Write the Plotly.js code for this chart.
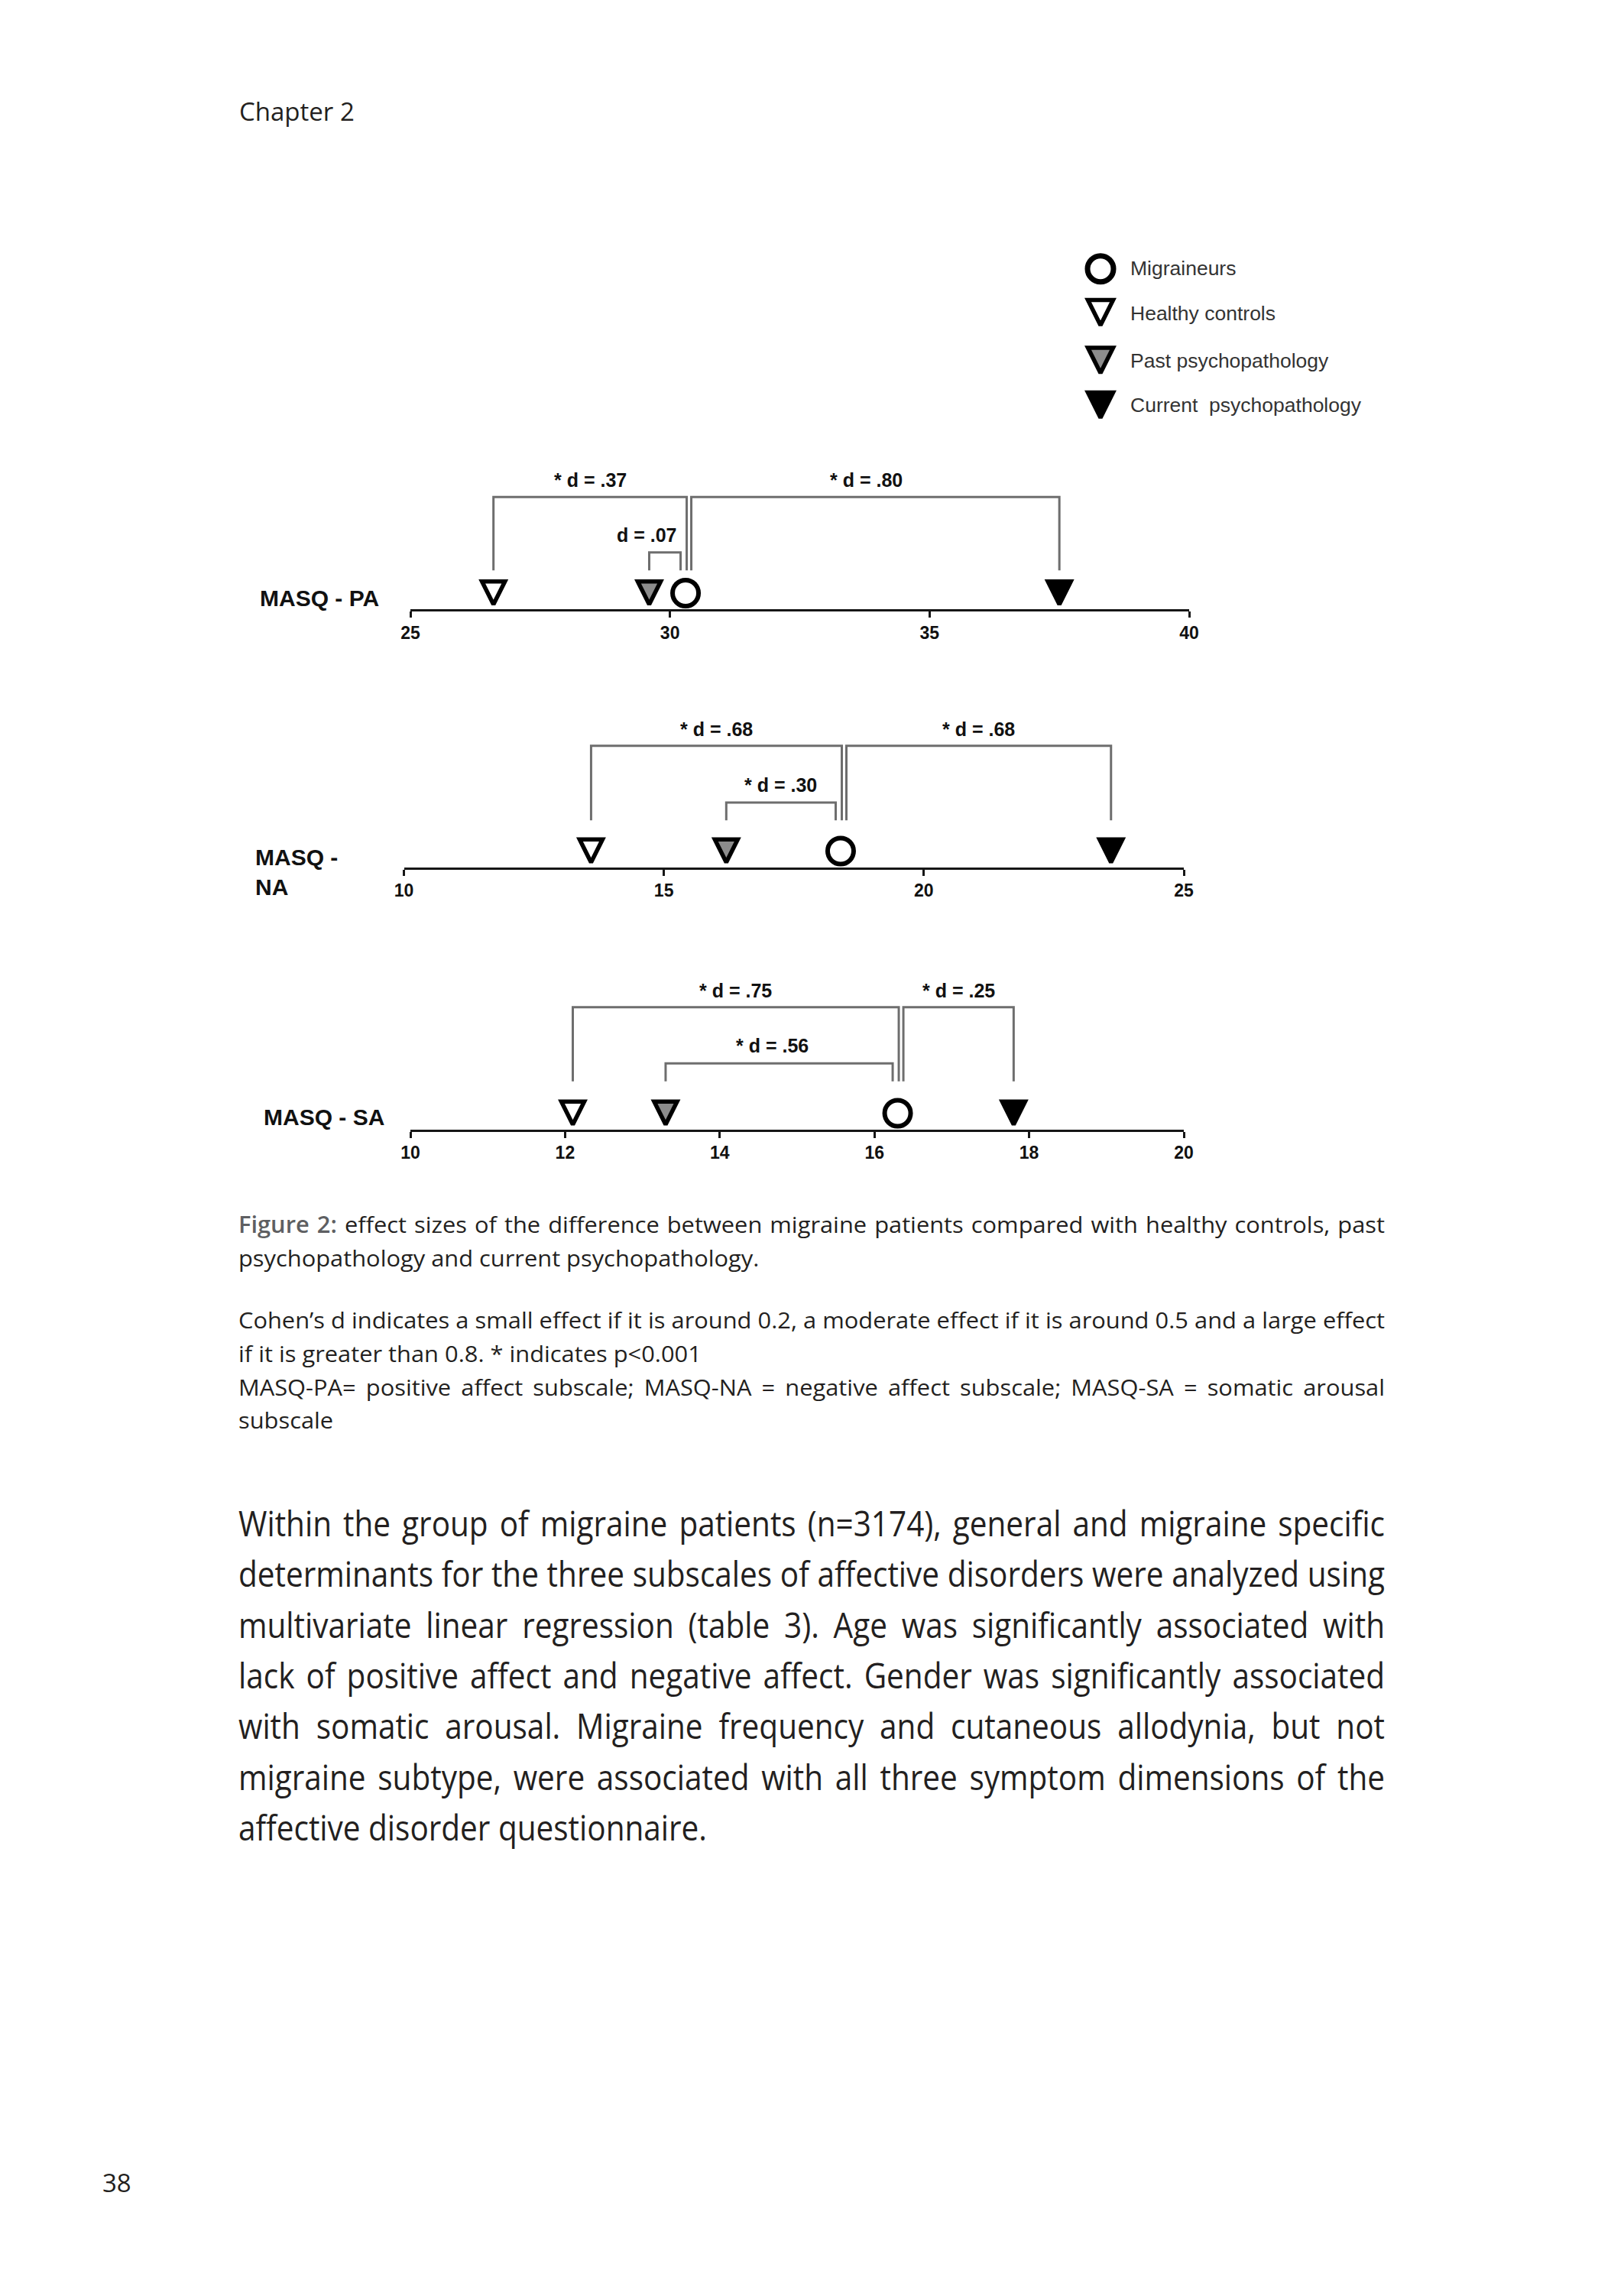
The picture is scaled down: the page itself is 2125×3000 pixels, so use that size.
<!DOCTYPE html>
<html><head><meta charset="utf-8">
<script src="https://cdn.plot.ly/plotly-3.0.1.min.js"></script>
<style>
html,body{margin:0;padding:0;background:#fff;}
#page{position:relative;width:2125px;height:3000px;overflow:hidden;background:#fff;}
#chart{position:absolute;left:0;top:0;width:2125px;height:3000px;}
#text{position:absolute;left:0;top:0;width:2125px;height:3000px;pointer-events:none;}
.txt{position:absolute;white-space:nowrap;color:#231f20;font-family:"Open Sans","Noto Sans",sans-serif;line-height:1.4;}
</style></head><body>
<div id="page"><div id="chart"></div><div id="text"></div></div>
<script>
const W = 2125, H = 3000;

// ---------------- data ----------------
const groupNames = ['Migraineurs', 'Healthy controls', 'Past psychopathology', 'Current\u00a0 psychopathology'];
const scaleNames = ['MASQ - PA', 'MASQ -<br>NA', 'MASQ - SA'];
// mean scores: migraineurs, healthy controls, past psychopathology, current psychopathology
const paMeans = [30.3, 26.6, 29.6, 37.5];
const naMeans = [18.4, 13.6, 16.2, 23.6];
const saMeans = [16.3, 12.1, 13.3, 17.8];
const paTicks = [25, 30, 35, 40];
const naTicks = [10, 15, 20, 25];
const saTicks = [10, 12, 14, 16, 18, 20];
// effect sizes: migraineurs vs healthy controls, vs past, vs current
const paEffects = ['* d = .37', 'd = .07', '* d = .80'];
const naEffects = ['* d = .68', '* d = .30', '* d = .68'];
const saEffects = ['* d = .75', '* d = .56', '* d = .25'];

// ---------------- layout constants ----------------
const ARIAL = 'Arial, "Liberation Sans", sans-serif';
const LW = 3;          // axis line width
const SPAN = 230;      // px height of each panel's y range
const panels = [
  {name: scaleNames[0], means: paMeans, ticks: paTicks, effects: paEffects,
   x0: 537, x1: 1556, axisY: 798.5, labelX: 338, labelY: 782.5,
   top: 148.3, bottom: 52.3, smallTop: 75.7, bigLab: 170.7, smallLab: 99, labShift: [0, -24, -12]},
  {name: scaleNames[1], means: naMeans, ticks: naTicks, effects: naEffects,
   x0: 528.5, x1: 1549, axisY: 1136, labelX: 332, labelY: 1140.5,
   top: 160.3, bottom: 62.7, smallTop: 86, bigLab: 182.3, smallLab: 109, labShift: [0, 0, 0]},
  {name: scaleNames[2], means: saMeans, ticks: saTicks, effects: saEffects,
   x0: 537, x1: 1549, axisY: 1479, labelX: 343, labelY: 1461.5,
   top: 161.3, bottom: 64.3, smallTop: 87.7, bigLab: 182.7, smallLab: 111, labShift: [0, -9, 0]}
];
const TRI_SIZE = 30, TRI_LINE = 5.5, CIRC_SIZE = 34, CIRC_LINE = 6;
const triColors = ['#ffffff', '#8c8c8c', '#000000'];
const bracketColor = '#6e6e6e';

const traces = [];
const annotations = [];
const layout = {
  width: W, height: H, margin: {l: 0, r: 0, t: 0, b: 0},
  paper_bgcolor: 'rgba(0,0,0,0)', plot_bgcolor: 'rgba(0,0,0,0)',
  showlegend: false, font: {family: ARIAL, color: '#111'},
  hovermode: false
};

panels.forEach((p, i) => {
  const n = i + 1, sfx = n === 1 ? '' : String(n);
  const xr = 'x' + sfx, yr = 'y' + sfx;
  const lo = p.ticks[0], hi = p.ticks[p.ticks.length - 1];
  const ppu = (p.x1 - p.x0) / (hi - lo);
  const base = p.axisY - LW / 2;
  const up = v => v - LW / 2;
  layout['xaxis' + sfx] = {
    domain: [p.x0 / W, p.x1 / W], range: [lo, hi], anchor: yr,
    showline: true, linewidth: LW, linecolor: '#161616',
    ticks: 'outside', ticklen: 8, tickwidth: 3, tickcolor: '#161616',
    tickmode: 'array', tickvals: p.ticks, ticktext: p.ticks.map(t => '<b>' + t + '</b>'),
    tickfont: {family: ARIAL, size: 23, color: '#111'},
    showgrid: false, zeroline: false, fixedrange: true
  };
  layout['yaxis' + sfx] = {
    domain: [1 - base / H, 1 - (base - SPAN) / H], range: [0, SPAN],
    visible: false, anchor: xr, fixedrange: true
  };
  const [mig, hc, past, cur] = p.means;
  const brackets = [
    {a: hc, b: mig + 1.5 / ppu, top: p.top, lab: p.bigLab},
    {a: past, b: mig - 6.5 / ppu, top: p.smallTop, lab: p.smallLab},
    {a: mig + 7.5 / ppu, b: cur, top: p.top, lab: p.bigLab}
  ];
  brackets.forEach((b, j) => {
    traces.push({
      type: 'scatter', mode: 'lines', xaxis: xr, yaxis: yr,
      x: [b.a, b.a, b.b, b.b], y: [up(p.bottom), up(b.top), up(b.top), up(p.bottom)],
      line: {color: bracketColor, width: 3}, cliponaxis: false
    });
    annotations.push({
      xref: xr, yref: yr, x: (b.a + b.b) / 2, y: up(b.lab), xshift: p.labShift[j],
      text: '<b>' + p.effects[j] + '</b>', showarrow: false, xanchor: 'center', yanchor: 'middle',
      font: {family: ARIAL, size: 25, color: '#111'}
    });
  });
  const triY = TRI_LINE * 1.118;
  [hc, past, cur].forEach((v, j) => {
    traces.push({
      type: 'scatter', mode: 'markers', xaxis: xr, yaxis: yr,
      x: [v], y: [triY], cliponaxis: false,
      marker: {symbol: 'arrow-down', size: TRI_SIZE, color: triColors[j], opacity: 1,
               line: {color: '#000000', width: TRI_LINE}}
    });
  });
  traces.push({
    type: 'scatter', mode: 'markers', xaxis: xr, yaxis: yr,
    x: [mig], y: [up(22.5)], cliponaxis: false,
    marker: {symbol: 'circle', size: CIRC_SIZE, color: '#ffffff', opacity: 1,
             line: {color: '#000000', width: CIRC_LINE}}
  });
  annotations.push({
    xref: 'paper', yref: 'paper', x: p.labelX / W, y: 1 - p.labelY / H,
    xanchor: 'left', yanchor: 'middle', align: 'left', showarrow: false,
    text: '<b>' + p.name + '</b>', font: {family: ARIAL, size: 30, color: '#111'}
  });
});

// legend (drawn on a page-pixel helper axis)
layout.xaxis4 = {domain: [0, 1], range: [0, W], visible: false, anchor: 'y4', fixedrange: true};
layout.yaxis4 = {domain: [0, 1], range: [H, 0], visible: false, anchor: 'x4', fixedrange: true};
const legX = 1440, legTextX = 1477;
const legTextY = [350.7, 409.7, 472.3, 530.3];
const legMarkY = [351.7, 431.7 - 6.1, 494 - 6.1, 552.7 - 6.1];
const legSymbols = ['circle', 'arrow-down', 'arrow-down', 'arrow-down'];
const legFill = ['#ffffff'].concat(triColors);
const legSize = [34, 33, 33, 33];
const legLine = [7, 5.5, 5.5, 5.5];
groupNames.forEach((g, i) => {
  traces.push({
    type: 'scatter', mode: 'markers', xaxis: 'x4', yaxis: 'y4', cliponaxis: false,
    x: [legX], y: [legMarkY[i]],
    marker: {symbol: legSymbols[i], size: legSize[i], color: legFill[i], opacity: 1,
             line: {color: '#000000', width: legLine[i]}}
  });
  annotations.push({
    xref: 'paper', yref: 'paper', x: legTextX / W, y: 1 - legTextY[i] / H,
    xanchor: 'left', yanchor: 'middle', showarrow: false, text: g,
    font: {family: ARIAL, size: 26.5, color: '#333'}
  });
});
layout.annotations = annotations;
traces.forEach(t => { t.showlegend = false; t.hoverinfo = 'skip'; });

Plotly.newPlot('chart', traces, layout, {displayModeBar: false, staticPlot: true});

// ---------------- page text ----------------
const captionLines = [
  {html: '<span style="font-weight:600;color:#5e5f62">Figure 2:</span> effect sizes of the difference between migraine patients compared with healthy controls, past', justify: true},
  {html: 'psychopathology and current psychopathology.', justify: false},
  {html: 'Cohen\u2019s d indicates a small effect if it is around 0.2, a moderate effect if it is around 0.5 and a large effect', justify: true},
  {html: 'if it is greater than 0.8. * indicates p&lt;0.001', justify: false},
  {html: 'MASQ-PA= positive affect subscale; MASQ-NA = negative affect subscale; MASQ-SA = somatic arousal', justify: true},
  {html: 'subscale', justify: false}
];
const bodyLines = [
  'Within the group of migraine patients (n=3174), general and migraine specific',
  'determinants for the three subscales of affective disorders were analyzed using',
  'multivariate linear regression (table 3). Age was significantly associated with',
  'lack of positive affect and negative affect. Gender was significantly associated',
  'with somatic arousal. Migraine frequency and cutaneous allodynia, but not',
  'migraine subtype, were associated with all three symptom dimensions of the',
  'affective disorder questionnaire.'
].map((t, i, a) => ({html: t, justify: i < a.length - 1}));

function placeLines(lines, o) {
  const host = document.getElementById('text');
  const els = lines.map(ln => {
    const d = document.createElement('div');
    d.className = 'txt';
    d.style.left = o.left + 'px';
    d.style.fontSize = o.size + 'px';
    if (o.color) d.style.color = o.color;
    d.innerHTML = ln.html + '<span class="bl" style="display:inline-block;width:0;height:0;vertical-align:baseline"></span>';
    host.appendChild(d);
    return d;
  });
  let k = 1;
  if (o.width) {
    let maxW = 0;
    els.forEach((d, i) => { if (lines[i].justify) maxW = Math.max(maxW, d.getBoundingClientRect().width); });
    if (maxW > 0) k = o.width / (maxW + 2);
  }
  els.forEach((d, i) => {
    const off = d.querySelector('.bl').offsetTop;
    d.style.top = (o.baselines[i] - off) + 'px';
    if (o.width) {
      d.style.transformOrigin = '0 0';
      d.style.transform = 'scaleX(' + k + ')';
      d.style.width = (o.width / k) + 'px';
      d.style.whiteSpace = 'normal';
      d.style.textAlign = lines[i].justify ? 'justify' : 'left';
      d.style.textAlignLast = lines[i].justify ? 'justify' : 'left';
    }
  });
}

placeLines([{html: 'Chapter 2'}], {left: 313, size: 33, baselines: [158.3]});
placeLines([{html: '38'}], {left: 134, size: 33, baselines: [2867.5]});
placeLines(captionLines, {left: 312, width: 1500, size: 30,
  baselines: [1613.3, 1657, 1738.3, 1781.9, 1825.5, 1869]});
placeLines(bodyLines, {left: 312, width: 1500, size: 45,
  baselines: bodyLines.map((_, i) => 2010 + i * 66.3)});
</script>
</body></html>
